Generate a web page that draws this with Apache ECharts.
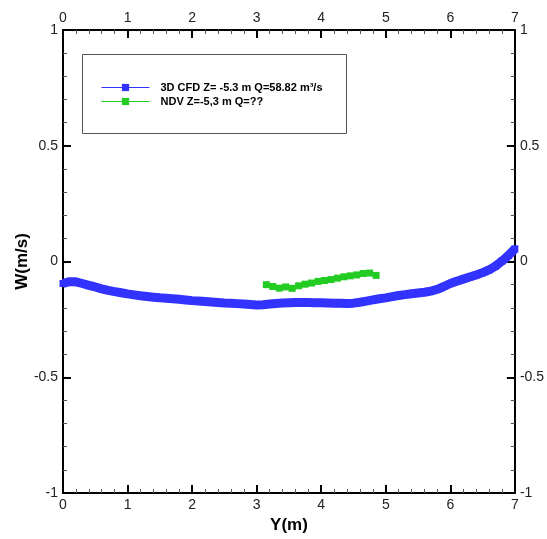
<!DOCTYPE html>
<html>
<head>
<meta charset="utf-8">
<script src="https://cdn.jsdelivr.net/npm/echarts@6/dist/echarts.min.js"></script>
<style>html,body{margin:0;padding:0;background:#fff}#c{width:547px;height:539px}</style>
</head>
<body>
<div id="c"></div>
<script>
// ---- data ----
const cfdY = [0,0.1,0.2,0.3,0.4,0.5,0.6,0.7,0.8,0.9,1.0,1.1,1.2,1.3,1.4,1.5,1.6,1.7,1.8,1.9,2.0,2.1,2.2,2.3,2.4,2.5,2.6,2.7,2.8,2.9,3.0,3.1,3.2,3.3,3.4,3.5,3.6,3.7,3.8,3.9,4.0,4.1,4.2,4.3,4.4,4.5,4.6,4.7,4.8,4.9,5.0,5.1,5.2,5.3,5.4,5.5,5.6,5.7,5.8,5.9,6.0,6.1,6.2,6.3,6.4,6.5,6.6,6.7,6.8,6.9,7.0];
const cfdW = [-0.095,-0.087,-0.088,-0.095,-0.103,-0.110,-0.118,-0.125,-0.130,-0.135,-0.140,-0.144,-0.148,-0.151,-0.154,-0.157,-0.159,-0.161,-0.163,-0.166,-0.169,-0.171,-0.173,-0.175,-0.177,-0.179,-0.180,-0.182,-0.184,-0.186,-0.188,-0.187,-0.184,-0.181,-0.179,-0.178,-0.177,-0.177,-0.177,-0.178,-0.178,-0.179,-0.180,-0.180,-0.181,-0.180,-0.176,-0.171,-0.166,-0.161,-0.157,-0.152,-0.147,-0.143,-0.139,-0.136,-0.133,-0.128,-0.120,-0.108,-0.095,-0.085,-0.076,-0.067,-0.058,-0.048,-0.036,-0.020,0.002,0.026,0.055];
const ndvY = [3.15,3.25,3.35,3.45,3.55,3.65,3.75,3.85,3.95,4.05,4.15,4.25,4.35,4.45,4.55,4.65,4.75,4.85];
const ndvW = [-0.100,-0.108,-0.115,-0.110,-0.116,-0.105,-0.098,-0.093,-0.086,-0.082,-0.078,-0.072,-0.066,-0.062,-0.058,-0.052,-0.050,-0.060];
const seriesNames = ['3D CFD Z= -5.3 m Q=58.82 m\u00B3/s', 'NDV Z=-5,3 m Q=??'];
const xTicks = [0,1,2,3,4,5,6,7];
const yTicks = [-1,-0.5,0,0.5,1];

const FONT = 'Liberation Sans, Arial, Helvetica, sans-serif';
const chart = echarts.init(document.getElementById('c'), null, {renderer:'canvas'});

function xAx(pos, name){
  return {
    type:'value', position:pos, min:xTicks[0], max:xTicks[xTicks.length-1], interval:1,
    name:name, nameLocation:'middle', nameGap:24,
    nameTextStyle:{fontFamily:FONT, fontSize:17, fontWeight:'bold', color:'#000'},
    axisLine:{show:true, onZero:false, lineStyle:{color:'#000', width:2}},
    axisTick:{show:true, inside:true, length:8, lineStyle:{color:'#000', width:2}},
    minorTick:{show:true, splitNumber:5, length:4, lineStyle:{color:'#555', width:1}},
    axisLabel:{show:true, fontFamily:FONT, fontSize:14, color:'#222', margin:5},
    splitLine:{show:false}
  };
}
function yAx(pos, name){
  return {
    type:'value', position:pos, min:yTicks[0], max:yTicks[yTicks.length-1], interval:0.5,
    name:name, nameLocation:'middle', nameGap:32, nameMoveOverlap:false,
    nameTextStyle:{fontFamily:FONT, fontSize:17, fontWeight:'bold', color:'#000'},
    axisLine:{show:true, onZero:false, lineStyle:{color:'#000', width:2}},
    axisTick:{show:true, inside:true, length:8, lineStyle:{color:'#000', width:2}},
    minorTick:{show:true, splitNumber:5, length:4, lineStyle:{color:'#555', width:1}},
    axisLabel:{show:true, fontFamily:FONT, fontSize:14, color:'#222', margin:5},
    splitLine:{show:false}
  };
}

chart.setOption({
  animation:false,
  backgroundColor:'#fff',
  grid:{left:63, right:29, top:30, bottom:44, containLabel:false},
  xAxis:[xAx('bottom','Y(m)'), xAx('top','')],
  yAxis:[yAx('left','W(m/s)'), yAx('right','')],
  legend:{
    orient:'vertical', left:96, top:77, itemWidth:48, itemHeight:9, itemGap:3,
    textStyle:{fontFamily:FONT, fontSize:11, fontWeight:'bold', color:'#000', padding:[0,0,0,6]},
    lineStyle:{width:1},
    data:seriesNames
  },
  graphic:[{type:'rect', left:80, top:52, shape:{width:264, height:79}, style:{fill:'none', stroke:'#555', lineWidth:1}, z:10}],
  series:[
    {name:seriesNames[0], type:'line', xAxisIndex:0, yAxisIndex:0,
     data:cfdY.map((x,i)=>[x,cfdW[i]]),
     symbol:'rect', symbolSize:7, showAllSymbol:true,
     itemStyle:{color:'#3333ff'}, lineStyle:{color:'#3333ff', width:9}},
    {name:seriesNames[1], type:'line', xAxisIndex:0, yAxisIndex:0,
     data:ndvY.map((x,i)=>[x,ndvW[i]]),
     symbol:'rect', symbolSize:7, showAllSymbol:true,
     itemStyle:{color:'#22cc22'}, lineStyle:{color:'#22cc22', width:3}}
  ]
});
</script>
</body>
</html>
